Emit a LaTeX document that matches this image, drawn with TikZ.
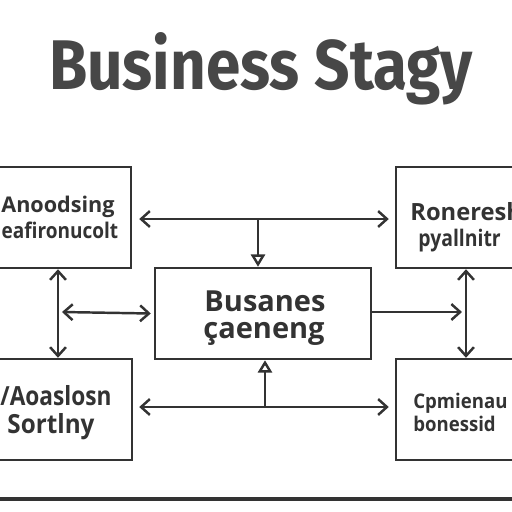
\documentclass[tikz,border=0pt]{standalone}
\usepackage{fontspec}
\setmainfont{Open Sans}
\newfontfamily\titlefont{Fira Sans}
\usetikzlibrary{arrows.meta,calc}
\definecolor{ink}{HTML}{333333}
\definecolor{titleink}{HTML}{474747}
\tikzset{
  barb/.tip={Straight Barb[length=5pt,width=9pt,line width=1.4pt]},
  tri/.tip={Triangle[open,length=7pt,width=8pt,line width=1.4pt]}}
\begin{document}
\begin{tikzpicture}[x=0.02cm,y=-0.02cm,
  box/.style={draw=ink,line width=1.4pt,rectangle,inner sep=0pt},
  lbl/.style={text=ink,inner sep=0pt,font=\bfseries},
  conn/.style={draw=ink,line width=1.4pt}]
\useasboundingbox (0,0) rectangle (512,512);
\clip (0,0) rectangle (512,512);
\fill[white] (0,0) rectangle (512,512);
% title
\node[inner sep=0pt,anchor=base,text=titleink] (title) at (261,89)
  {\resizebox{8.48cm}{1.14cm}{\titlefont\bfseries Business Stagy}};
% boxes
\node[box,minimum width=151*0.02cm,minimum height=101*0.02cm] (TL) at (55.5,217.5) {};
\node[box,minimum width=136*0.02cm,minimum height=101*0.02cm] (TR) at (464,217.5) {};
\node[box,minimum width=216*0.02cm,minimum height=91*0.02cm] (C) at (263,313.5) {};
\node[box,minimum width=152*0.02cm,minimum height=101*0.02cm] (BL) at (56,409.5) {};
\node[box,minimum width=136*0.02cm,minimum height=101*0.02cm] (BR) at (464,409.5) {};
% texts
\node[lbl,anchor=base,font=\bfseries\fontsize{12.3}{14}\selectfont] (tl1) at (58,212) {Anoodsing};
\node[lbl,anchor=base,font=\bfseries\fontsize{12.3}{14}\selectfont] (tl2) at (60,238) {\scalebox{0.88}[1]{eafironucolt}};
\node[lbl,anchor=base west,font=\bfseries\fontsize{13.5}{15}\selectfont] (tr1) at (410,220) {Roneresh};
\node[lbl,anchor=base west,font=\bfseries\fontsize{13}{15}\selectfont] (tr2) at (418,246) {\scalebox{0.85}[1]{pyallnitr}};
\node[lbl,anchor=base,font=\fontseries{sb}\fontsize{16.5}{18}\selectfont] (c1) at (265,311) {Busanes};
\node[lbl,anchor=base,font=\fontseries{sb}\fontsize{16.5}{18}\selectfont] (c2) at (264,338) {çaeneng};
\node[lbl,anchor=base,font=\fontseries{sb}\fontsize{15}{18}\selectfont] (bl1) at (56,405) {\scalebox{0.86}[1]{/Aoaslosn}};
\node[lbl,anchor=base,font=\fontseries{sb}\fontsize{15}{18}\selectfont] (bl2) at (51,433) {\scalebox{0.92}[1]{Sortlny}};
\node[lbl,anchor=base west,font=\bfseries\fontsize{11.5}{13}\selectfont] (br1) at (413,408) {\scalebox{0.92}[1]{Cpmienau}};
\node[lbl,anchor=base west,font=\bfseries\fontsize{11.5}{13}\selectfont] (br2) at (413,431) {\scalebox{0.92}[1]{bonessid}};
% junction coordinates
\coordinate (jt) at (258,219);
\coordinate (jb) at (265,407);
\coordinate (lv) at (58,312);
\coordinate (rv) at (466,312);
% connectors
\draw[conn,{barb}-{barb}] ($(TL.east|-jt)+(7,0)$) -- ($(TR.west|-jt)+(-6,0)$);
\draw[conn,-{tri}] (jt) -- (jt|-C.north);
\draw[conn,{barb}-{barb}] (TL.south-|lv) -- (BL.north-|lv);
\draw[conn,{barb}-{barb}] ($(lv)+(4,0)$) -- ($(C.west)+(-3,0)$);
\draw[conn,{barb}-{barb}] (TR.south-|rv) -- (BR.north-|rv);
\draw[conn,-{barb}] (C.east|-rv) -- ($(rv)+(-4,0)$);
\draw[conn,{barb}-{barb}] ($(BL.east|-jb)+(6,0)$) -- ($(BR.west|-jb)+(-6,0)$);
\draw[conn,-{tri}] (jb) -- (jb|-C.south);
% bottom rule
\coordinate (rl) at (0,499);
\coordinate (rr) at (512,499);
\draw[ink,line width=1.8pt] (rl) -- (rr);
\end{tikzpicture}
\end{document}
